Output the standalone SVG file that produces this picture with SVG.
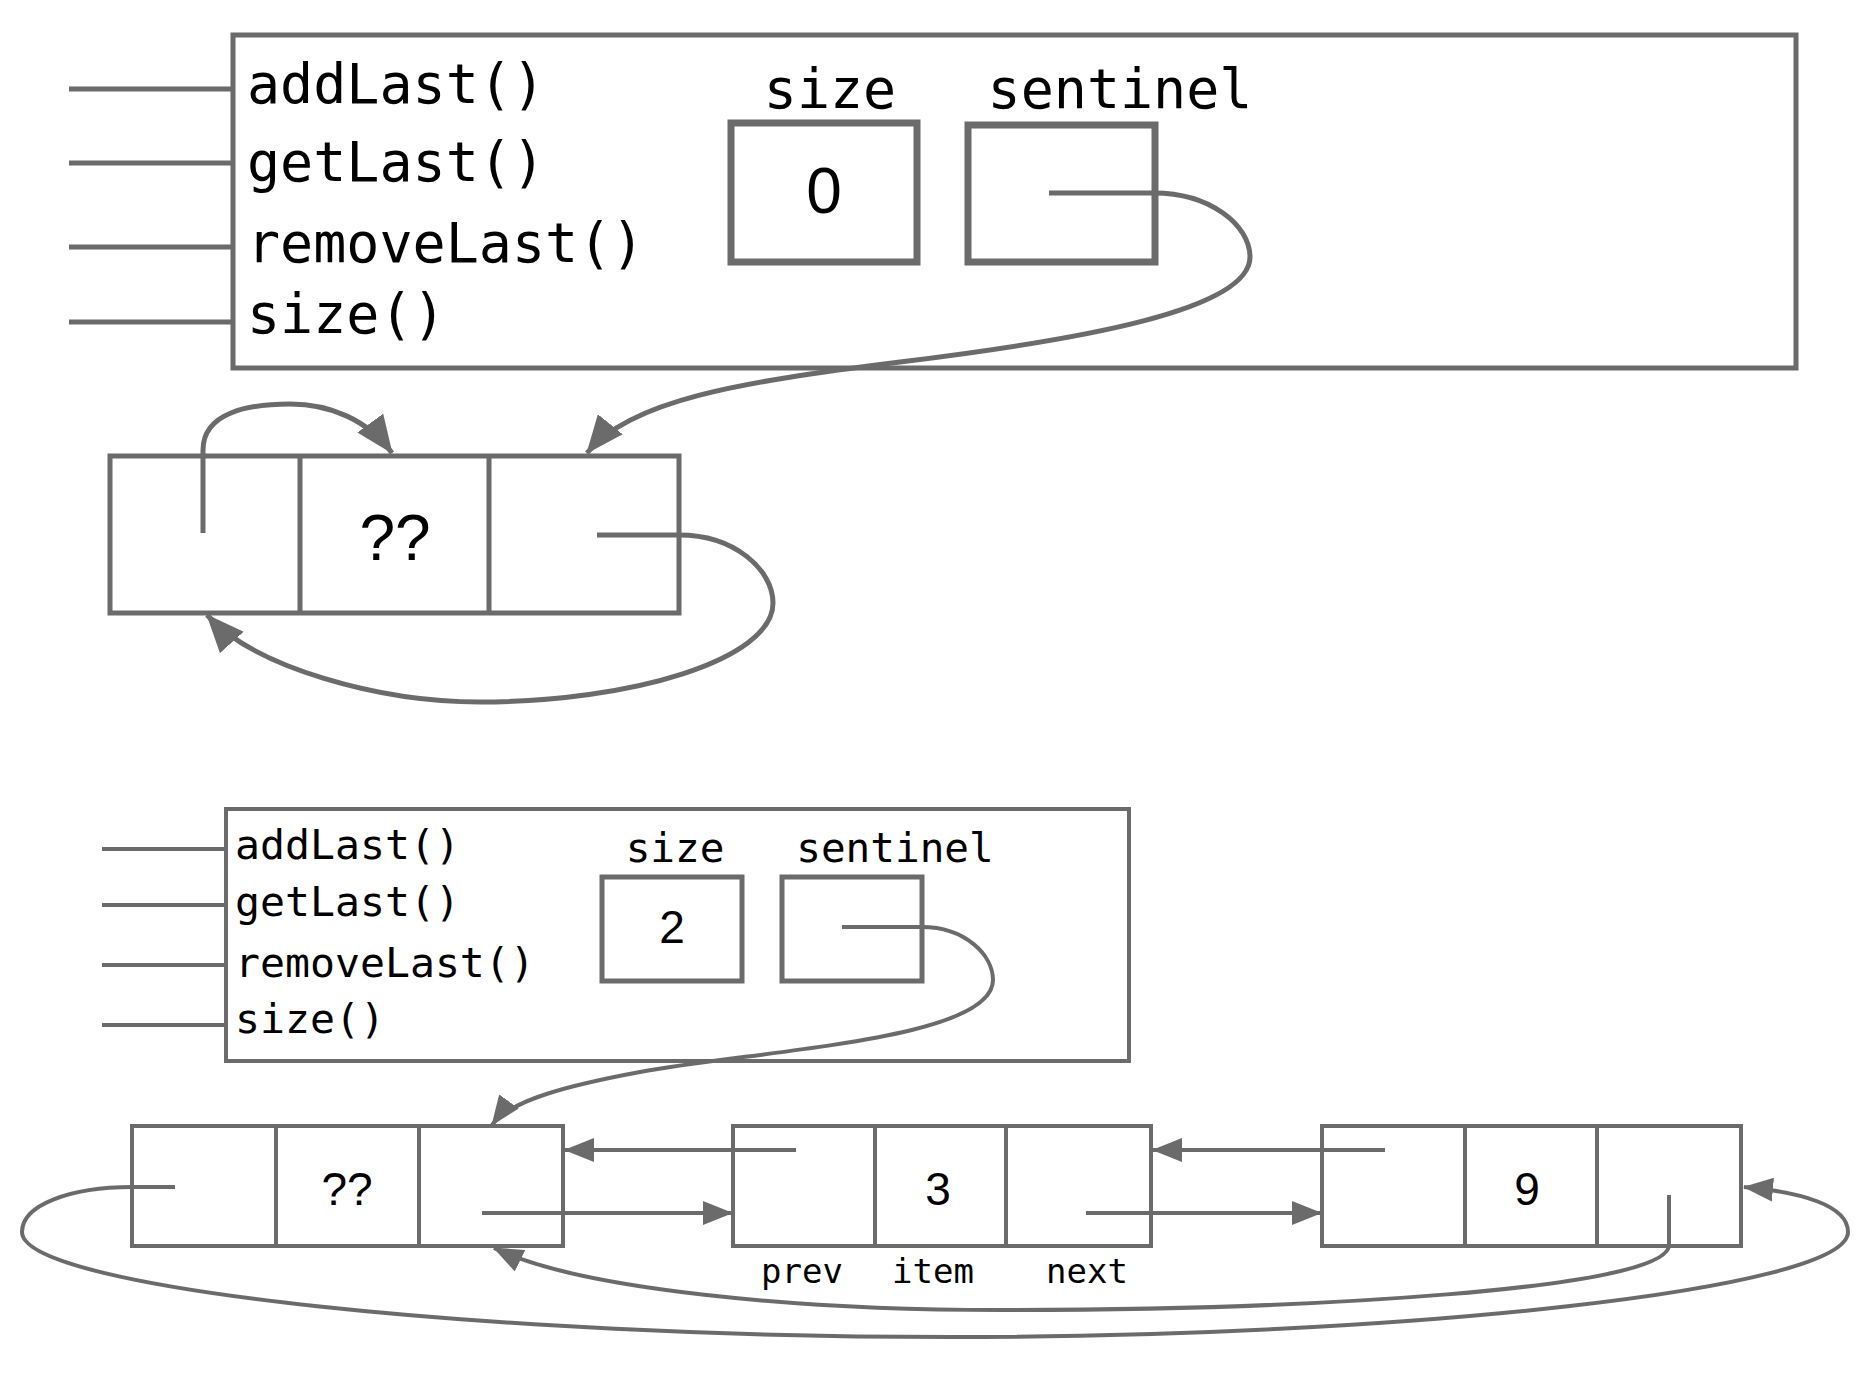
<svg xmlns="http://www.w3.org/2000/svg" width="1872" height="1379" viewBox="0 0 1872 1379">
  <defs>
    <style>
      .box { fill: #ffffff; stroke: #6b6b6b; }
      .wire { fill: none; stroke: #6b6b6b; stroke-width: 4; }
      .wire5 { fill: none; stroke: #6b6b6b; stroke-width: 5; }
      .mono { font-family: "DejaVu Sans Mono", "Liberation Mono", monospace; fill: #000000; }
      .val { font-family: "Liberation Sans", Arial, sans-serif; fill: #000000; text-anchor: middle; }
      .mid { text-anchor: middle; }
    </style>
    <marker id="headL" viewBox="0 0 38 32" markerWidth="38" markerHeight="32" refX="37" refY="16" orient="auto" markerUnits="userSpaceOnUse">
      <path d="M0,0 L38,16 L0,32 z" fill="#6b6b6b"/>
    </marker>
    <marker id="headS" viewBox="0 0 30 24" markerWidth="30" markerHeight="24" refX="29" refY="12" orient="auto" markerUnits="userSpaceOnUse">
      <path d="M0,0 L30,12 L0,24 z" fill="#6b6b6b"/>
    </marker>
  </defs>

  <rect width="1872" height="1379" fill="#ffffff"/>

  <!-- ===== Empty list (size 0) ===== -->
  <g id="list-empty">
    <g id="list-empty-methods" class="wire5">
      <line x1="69" y1="89" x2="233" y2="89"/>
      <line x1="69" y1="163" x2="233" y2="163"/>
      <line x1="69" y1="247" x2="233" y2="247"/>
      <line x1="69" y1="322" x2="233" y2="322"/>
    </g>
    <rect class="box" x="233" y="35" width="1563" height="333" stroke-width="5"/>
    <g class="mono" font-size="55">
      <text x="247" y="103">addLast()</text>
      <text x="247" y="181">getLast()</text>
      <text x="247" y="262">removeLast()</text>
      <text x="247" y="333">size()</text>
    </g>
  </g>

  <g id="size-empty">
    <text class="mono mid" font-size="55" x="830" y="108">size</text>
    <rect class="box" x="731" y="123" width="186" height="139" stroke-width="7"/>
    <text class="val" font-size="64" x="824" y="213">0</text>
  </g>

  <g id="sentinel-ptr-empty">
    <text class="mono mid" font-size="55" x="1120" y="108">sentinel</text>
    <rect class="box" x="968" y="125" width="187" height="137" stroke-width="7"/>
  </g>

  <g id="sentinel-node-empty">
    <rect class="box" x="110" y="456" width="569" height="157" stroke-width="5"/>
    <line class="wire5" x1="300" y1="456" x2="300" y2="613"/>
    <line class="wire5" x1="489" y1="456" x2="489" y2="613"/>
    <text class="val" font-size="64" x="395" y="560">??</text>
  </g>

  <!-- ===== List with two items (size 2) ===== -->
  <g id="list-full">
    <g id="list-full-methods" class="wire">
      <line x1="102" y1="849" x2="226" y2="849"/>
      <line x1="102" y1="905" x2="226" y2="905"/>
      <line x1="102" y1="965" x2="226" y2="965"/>
      <line x1="102" y1="1025" x2="226" y2="1025"/>
    </g>
    <rect class="box" x="226" y="809" width="903" height="252" stroke-width="4"/>
    <g class="mono" font-size="41.5">
      <text x="235" y="859">addLast()</text>
      <text x="235" y="916">getLast()</text>
      <text x="235" y="977">removeLast()</text>
      <text x="235" y="1033">size()</text>
    </g>
  </g>

  <g id="size-full">
    <text class="mono mid" font-size="41" x="675" y="862">size</text>
    <rect class="box" x="602" y="877" width="140" height="104" stroke-width="5"/>
    <text class="val" font-size="46" x="672" y="943">2</text>
  </g>

  <g id="sentinel-ptr-full">
    <text class="mono mid" font-size="41" x="895" y="862">sentinel</text>
    <rect class="box" x="782" y="877" width="140" height="104" stroke-width="5"/>
  </g>

  <g id="sentinel-node-full">
    <rect class="box" x="132" y="1126" width="431" height="120" stroke-width="4"/>
    <line class="wire" x1="276" y1="1126" x2="276" y2="1246"/>
    <line class="wire" x1="419" y1="1126" x2="419" y2="1246"/>
    <text class="val" font-size="46" x="347" y="1205">??</text>
  </g>

  <g id="node-3">
    <rect class="box" x="733" y="1126" width="418" height="120" stroke-width="4"/>
    <line class="wire" x1="875" y1="1126" x2="875" y2="1246"/>
    <line class="wire" x1="1006" y1="1126" x2="1006" y2="1246"/>
    <text class="val" font-size="46" x="938" y="1205">3</text>
    <g class="mono mid" font-size="34">
      <text x="802" y="1283">prev</text>
      <text x="933" y="1283">item</text>
      <text x="1087" y="1283">next</text>
    </g>
  </g>

  <g id="node-9">
    <rect class="box" x="1322" y="1126" width="419" height="120" stroke-width="4"/>
    <line class="wire" x1="1465" y1="1126" x2="1465" y2="1246"/>
    <line class="wire" x1="1597" y1="1126" x2="1597" y2="1246"/>
    <text class="val" font-size="46" x="1527" y="1205">9</text>
  </g>

  <!-- ===== Connectors ===== -->
  <g id="connectors">
    <!-- empty list: sentinel -> sentinel node -->
    <path class="wire5" d="M1049,193 H1154 C1210,193 1250,225 1250,257 C1250,310 1080,340 900,362 C740,382 630,400 587,453" marker-end="url(#headL)"/>
    <!-- empty list: prev points back to itself -->
    <path class="wire5" d="M203,533 V450 C203,412 250,404 290,404 C330,404 368,420 392,453" marker-end="url(#headL)"/>
    <!-- empty list: next points back to itself -->
    <path class="wire5" d="M597,535 H679 C735,535 773,570 773,603 C773,660 630,702 480,702 C380,702 255,668 207,615" marker-end="url(#headL)"/>

    <!-- full list: sentinel -> sentinel node -->
    <path class="wire" d="M842,927 H922 C965,927 993,955 993,980 C993,1040 760,1050 640,1072 C570,1085 510,1100 492,1125" marker-end="url(#headS)"/>
    <!-- sentinel.next -> 3 -->
    <path class="wire" d="M482,1213 H732" marker-end="url(#headS)"/>
    <!-- 3.prev -> sentinel -->
    <path class="wire" d="M796,1150 H565" marker-end="url(#headS)"/>
    <!-- 3.next -> 9 -->
    <path class="wire" d="M1086,1213 H1321" marker-end="url(#headS)"/>
    <!-- 9.prev -> 3 -->
    <path class="wire" d="M1385,1150 H1153" marker-end="url(#headS)"/>
    <!-- 9.next -> sentinel -->
    <path class="wire" d="M1669,1195 V1245 C1669,1290 1300,1310 1000,1310 C800,1310 580,1290 494,1248" marker-end="url(#headS)"/>
    <!-- sentinel.prev -> 9 -->
    <path class="wire" d="M175,1187 H132 C70,1187 22,1205 22,1232 C22,1290 500,1337 950,1337 C1400,1337 1848,1290 1848,1232 C1848,1205 1800,1192 1744,1187" marker-end="url(#headS)"/>
  </g>
</svg>
